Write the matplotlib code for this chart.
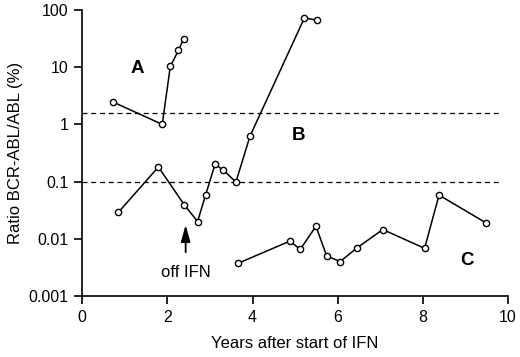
import numpy as np
import matplotlib.pyplot as plt

plt.rcParams['font.family'] = ['Liberation Sans', 'DejaVu Sans']

# patient A
a_years = [0.73, 1.88, 2.07, 2.26, 2.38]
a_ratio = [2.45, 1.0, 10.3, 19.6, 31.0]

# patient B
b_years = [0.85, 1.79, 2.40, 2.71, 2.90, 3.12, 3.31, 3.61, 3.94, 5.22, 5.52]
b_ratio = [0.029, 0.18, 0.039, 0.020, 0.059, 0.20, 0.16, 0.098, 0.62, 73, 66]

# patient C
c_years = [3.65, 4.88, 5.12, 5.49, 5.74, 6.06, 6.45, 7.06, 8.04, 8.38, 9.48]
c_ratio = [0.0037, 0.0091, 0.0065, 0.0166, 0.0050, 0.0040, 0.0069, 0.0145, 0.0068, 0.058, 0.019]

thresholds = [1.57, 0.1]

fig = plt.figure(figsize=(5.2, 3.57), dpi=100)
ax = fig.add_axes([0.158, 0.171, 0.819, 0.801])

for xs, ys in [(a_years, a_ratio), (b_years, b_ratio), (c_years, c_ratio)]:
    ax.plot(xs, ys, color="black", lw=1.1, marker="o", ms=4.5,
            mfc="white", mec="black", mew=1, zorder=3)

for t in thresholds:
    ax.axhline(t, xmin=0, xmax=0.985, color="black", lw=0.9, ls=(0, (4, 3)))

ax.set_yscale("log")
ax.set_xlim(0, 10)
ax.set_ylim(0.001, 100)
ax.set_xticks([0, 2, 4, 6, 8, 10])
ax.set_yticks([0.001, 0.01, 0.1, 1, 10, 100])
ax.set_yticklabels(["0.001", "0.01", "0.1", "1", "10", "100"])
ax.minorticks_off()
ax.spines["top"].set_visible(False)
ax.spines["right"].set_visible(False)
ax.spines["left"].set_linewidth(1.2)
ax.spines["bottom"].set_linewidth(1.2)
ax.tick_params(labelsize=11.5, direction="out", length=6, width=1.2, pad=4)
ax.set_xlabel("Years after start of IFN", fontsize=12, labelpad=8)
ax.set_ylabel("Ratio BCR-ABL/ABL (%)", fontsize=12, labelpad=4)

ax.text(1.29, 9.5, "A", fontsize=13.5, fontweight="bold", ha="center", va="center")
ax.text(5.09, 0.64, "B", fontsize=13.5, fontweight="bold", ha="center", va="center")
ax.text(9.03, 0.0042, "C", fontsize=13.5, fontweight="bold", ha="center", va="center")

ax.annotate("", xy=(2.43, 0.0175), xytext=(2.43, 0.0058),
            arrowprops=dict(arrowstyle="-|>,head_length=1.0,head_width=0.28",
                            color="black", lw=1.3, mutation_scale=10,
                            shrinkA=0, shrinkB=0))
ax.text(2.43, 0.0026, "off IFN", fontsize=12, ha="center", va="center")

plt.savefig("out.png", dpi=100)
